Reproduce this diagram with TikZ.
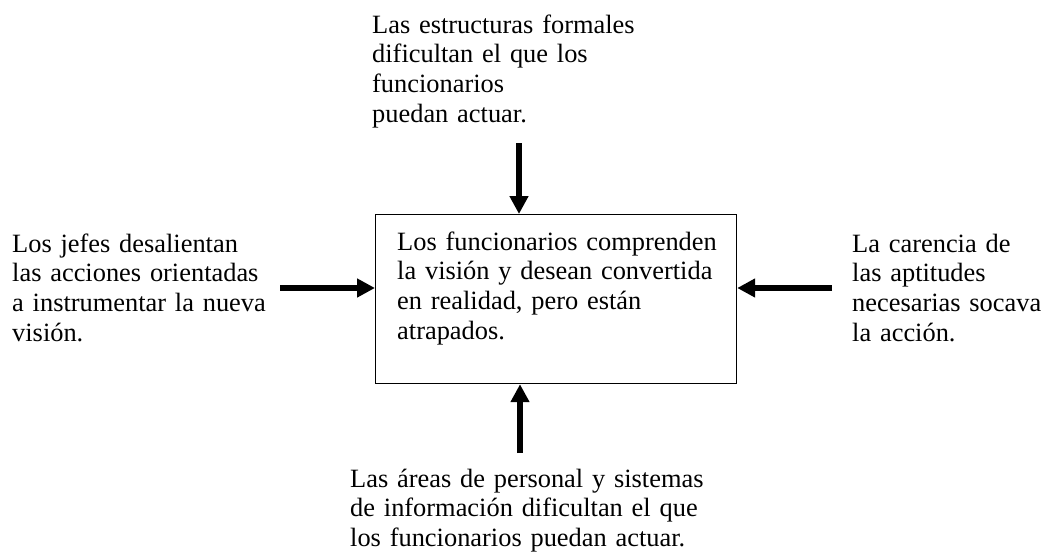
\documentclass[tikz,border=0pt]{standalone}
\usepackage{fontspec}
\setmainfont{Liberation Serif}
\usetikzlibrary{arrows.meta}

\begin{document}
\begin{tikzpicture}[x=1pt,y=-1pt,
	txt/.style={anchor=base west,inner sep=0pt,text width=420pt,align=left,font=\fontsize{26.4}{29.8}\selectfont},
	flow/.style={line width=5.5pt,-{Triangle[length=18pt,width=18pt]}}]
	\useasboundingbox (0,0) rectangle (1042,554);
	\node[draw,line width=1.2pt,anchor=north west,minimum width=361pt,minimum height=169pt,inner sep=0pt] (box) at (375,214) {};
	\node[txt] (boxtext) at (397,250) {Los funcionarios comprenden\\la visión y desean convertida\\en realidad, pero están\\atrapados.};
	\node[txt] (toptext) at (372,33) {Las estructuras formales\\dificultan el que los\\funcionarios\\puedan actuar.};
	\node[txt] (lefttext) at (12,252) {Los jefes desalientan\\las acciones orientadas\\a instrumentar la nueva\\visión.};
	\node[txt] (righttext) at (852,252) {La carencia de\\las aptitudes\\necesarias socava\\la acción.};
	\node[txt] (bottomtext) at (350,487) {Las áreas de personal y sistemas\\de información dificultan el que\\los funcionarios puedan actuar.};
	\coordinate (topstart) at (519,143);
	\coordinate (leftstart) at (280,288);
	\coordinate (rightstart) at (832,288);
	\coordinate (bottomstart) at (520,453);
	\draw[flow] (topstart) -- (topstart |- box.north);
	\draw[flow] (leftstart) -- (leftstart -| box.west);
	\draw[flow] (rightstart) -- (rightstart -| box.east);
	\draw[flow] (bottomstart) -- (bottomstart |- box.south);
\end{tikzpicture}
\end{document}
